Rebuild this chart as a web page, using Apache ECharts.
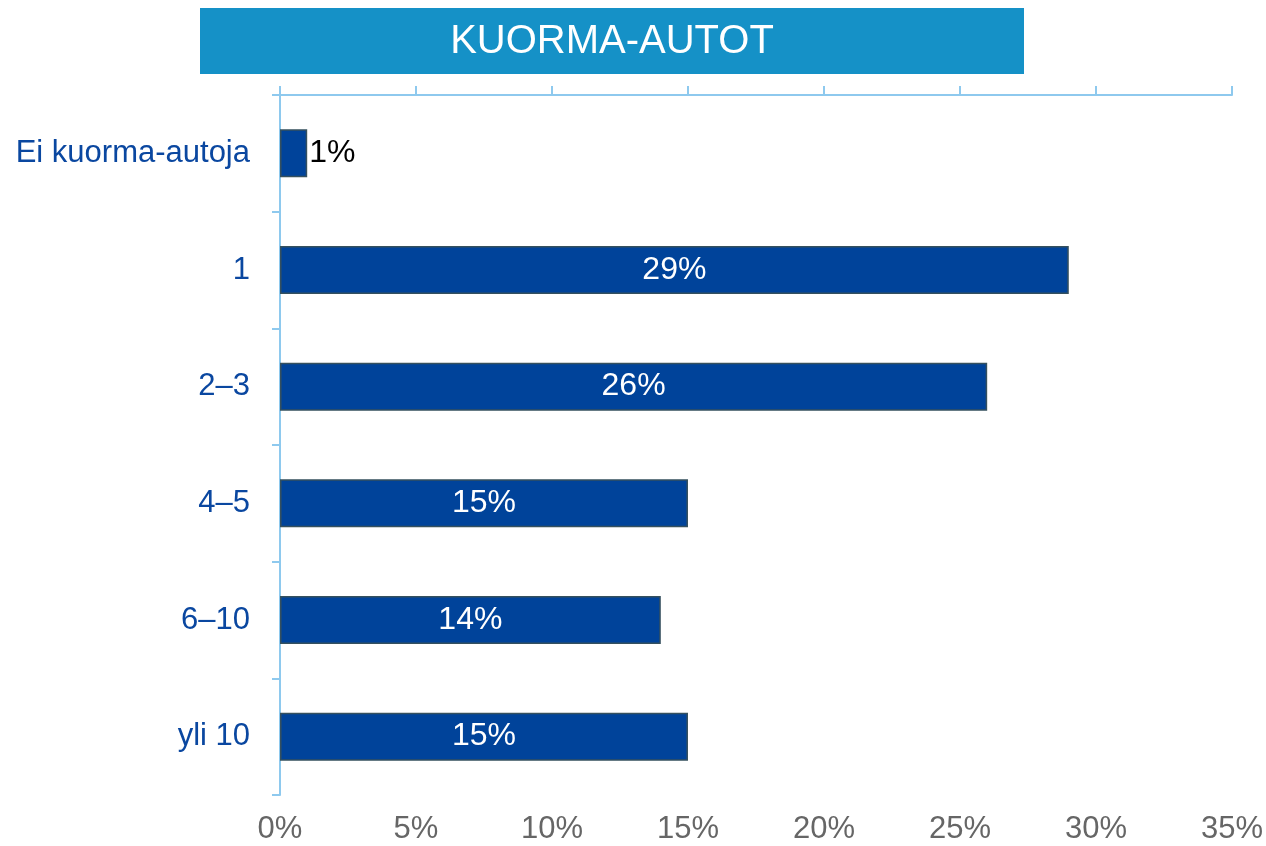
<!DOCTYPE html>
<html>
<head>
<meta charset="utf-8">
<script src="https://cdn.jsdelivr.net/npm/echarts@6/dist/echarts.min.js"></script>
<style>
  html, body { margin: 0; padding: 0; background: #fff; }
  #chart { width: 1266px; height: 846px; }
</style>
</head>
<body>
<div id="chart"></div>
<script>
// kuorma-autojen määrä, vaakapalkit
var categories = ["Ei kuorma-autoja", "1", "2–3", "4–5", "6–10", "yli 10"];
var values = [1, 29, 26, 15, 14, 15];
var tickValues = [0, 5, 10, 15, 20, 25, 30, 35];
var titleText = "KUORMA-AUTOT";

var axisColor = "#8ec9ee";
var barColor = "#00439a";

var chart = echarts.init(document.getElementById("chart"));

var seriesData = values.map(function (v) {
  var item = { value: v };
  if (v < 5) {
    item.label = { position: "right", color: "#000000", distance: 2 };
  }
  return item;
});

chart.setOption({
  animation: false,
  textStyle: { fontFamily: "Liberation Sans, Arial, sans-serif" },
  grid: { left: 280, right: 34, top: 95, bottom: 51 },
  graphic: [
    {
      type: "rect",
      shape: { x: 200, y: 8, width: 824, height: 66 },
      style: { fill: "#1591c7" }
    },
    {
      type: "text",
      x: 612,
      y: 42,
      style: {
        text: titleText,
        fill: "#ffffff",
        font: "40px Liberation Sans, Arial, sans-serif",
        align: "center",
        verticalAlign: "middle"
      }
    }
  ],
  xAxis: [
    {
      type: "value",
      position: "bottom",
      min: tickValues[0],
      max: tickValues[tickValues.length - 1],
      interval: 5,
      axisLine: { show: false },
      axisTick: { show: false },
      splitLine: { show: false },
      axisLabel: {
        color: "#666666",
        fontSize: 31,
        margin: 19,
        formatter: "{value}%"
      }
    },
    {
      type: "value",
      position: "top",
      min: tickValues[0],
      max: tickValues[tickValues.length - 1],
      interval: 5,
      axisLine: { show: true, lineStyle: { color: axisColor, width: 2 } },
      axisTick: { show: true, length: 9, lineStyle: { color: axisColor, width: 2 } },
      splitLine: { show: false },
      axisLabel: { show: false }
    }
  ],
  yAxis: {
    type: "category",
    inverse: true,
    data: categories,
    axisLine: { show: true, lineStyle: { color: axisColor, width: 2 } },
    axisTick: { show: true, length: 8, lineStyle: { color: axisColor, width: 2 } },
    axisLabel: { color: "#0a47a0", fontSize: 31, margin: 30 }
  },
  series: [
    {
      type: "bar",
      xAxisIndex: 0,
      data: seriesData,
      barWidth: 48,
      itemStyle: { color: barColor, borderColor: "#35505e", borderWidth: 1.5 },
      label: {
        show: true,
        position: "inside",
        color: "#ffffff",
        fontSize: 32,
        formatter: "{c}%"
      }
    }
  ]
});
</script>
</body>
</html>
